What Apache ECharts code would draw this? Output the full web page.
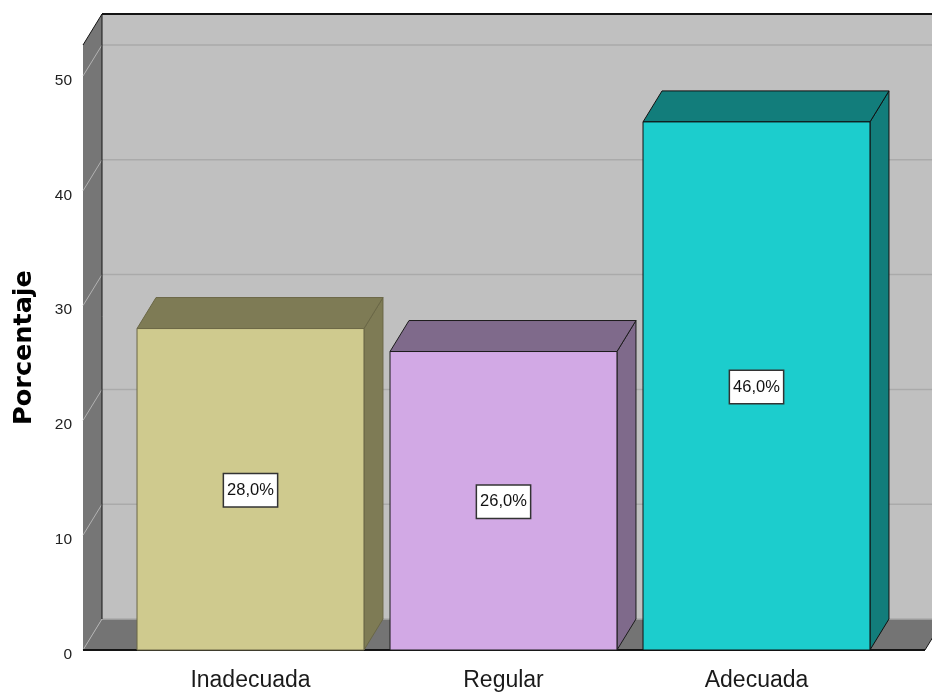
<!DOCTYPE html>
<html>
<head>
<meta charset="utf-8">
<script src="https://cdn.jsdelivr.net/npm/echarts@6/dist/echarts.min.js"></script>
<style>
  html, body { margin: 0; padding: 0; background: #ffffff; }
  #chart { width: 932px; height: 694px; }
</style>
</head>
<body>
<div id="chart"></div>
<script>
// Chart data
const categories = ['Inadecuada', 'Regular', 'Adecuada'];
const percentages = [28, 26, 46];
const yTicks = [0, 10, 20, 30, 40, 50];
const yMax = 52.7;

// Styling
const SANS = "'Liberation Sans', Arial, sans-serif";
const DX = 19;   // depth offset to the right
const DY = 31;   // depth offset upwards
const frontColors = ['#cfca8e', '#d2a9e5', '#1ccdcd'];
const shadeColors = ['#7e7b55', '#7f6a8b', '#127d7b'];
const edgeColors = ['#6a6746', '#1c1c1c', '#101010'];

function fmtPct(v) {
  return v.toFixed(1).replace('.', ',') + '%';
}

// Back wall, left wall, floor and their grid lines
function renderWalls(params, api) {
  const cs = params.coordSys;
  const y0 = api.coord([0, 0])[1];
  const yT = api.coord([0, yMax])[1];
  const fl = cs.x - 41;
  const fr = cs.x + cs.width + 42;
  const children = [];

  children.push({
    type: 'rect',
    shape: { x: fl + DX, y: yT - DY, width: fr - fl + 40, height: y0 - yT },
    style: { fill: '#c0c0c0' }
  });
  children.push({
    type: 'polygon',
    shape: { points: [[fl, yT], [fl + DX, yT - DY], [fl + DX, y0 - DY], [fl, y0]] },
    style: { fill: '#767676' }
  });
  children.push({
    type: 'polygon',
    shape: { points: [[fl, y0], [fl + DX, y0 - DY], [fr + DX, y0 - DY], [fr, y0]] },
    style: { fill: '#747474' }
  });

  yTicks.forEach(function (t) {
    const y = api.coord([0, t])[1];
    children.push({
      type: 'line',
      shape: { x1: fl + DX, y1: y - DY, x2: fr + DX + 40, y2: y - DY },
      style: { stroke: '#aaaaaa', lineWidth: 1.5 }
    });
    children.push({
      type: 'line',
      shape: { x1: fl, y1: y, x2: fl + DX, y2: y - DY },
      style: { stroke: '#b2b2b2', lineWidth: 1 }
    });
  });

  const edge = { stroke: '#141414', lineWidth: 1 };
  children.push({ type: 'line', shape: { x1: fl + DX, y1: yT - DY, x2: fr + DX + 40, y2: yT - DY }, style: { stroke: '#141414', lineWidth: 2 } });
  children.push({ type: 'line', shape: { x1: fl, y1: yT, x2: fl + DX, y2: yT - DY }, style: edge });
  children.push({ type: 'line', shape: { x1: fl + DX, y1: yT - DY, x2: fl + DX, y2: y0 - DY }, style: edge });
  children.push({ type: 'line', shape: { x1: fl, y1: y0, x2: fr, y2: y0 }, style: { stroke: '#141414', lineWidth: 2 } });
  children.push({ type: 'line', shape: { x1: fr, y1: y0, x2: fr + DX, y2: y0 - DY }, style: edge });

  return { type: 'group', children: children };
}

// 3D bar: front face, top face, right face and value label
function renderBar(params, api) {
  const idx = api.value(0);
  const v = api.value(1);
  const top = api.coord([idx, v]);
  const base = api.coord([idx, 0]);
  const w = api.size([1, 0])[0] * 0.897;
  const xL = top[0] - w / 2;
  const xR = top[0] + w / 2;
  const yT = top[1];
  const yB = base[1];
  const i = params.dataIndex;
  const stroke = edgeColors[i];

  return {
    type: 'group',
    children: [
      {
        type: 'polygon',
        shape: { points: [[xR, yT], [xR + DX, yT - DY], [xR + DX, yB - DY], [xR, yB]] },
        style: { fill: shadeColors[i], stroke: stroke, lineWidth: 1 }
      },
      {
        type: 'polygon',
        shape: { points: [[xL, yT], [xL + DX, yT - DY], [xR + DX, yT - DY], [xR, yT]] },
        style: { fill: shadeColors[i], stroke: stroke, lineWidth: 1 }
      },
      {
        type: 'rect',
        shape: { x: xL, y: yT, width: w, height: yB - yT },
        style: { fill: frontColors[i], stroke: stroke, lineWidth: 1 }
      },
      {
        type: 'text',
        x: top[0],
        y: (yT + yB) / 2 + 1,
        style: {
          text: fmtPct(v),
          font: '16.5px ' + SANS,
          fill: '#111111',
          align: 'center',
          verticalAlign: 'middle',
          backgroundColor: '#ffffff',
          borderColor: '#333333',
          borderWidth: 1.5,
          padding: [8, 3, 7, 3]
        }
      }
    ]
  };
}

const chart = echarts.init(document.getElementById('chart'), null, { renderer: 'canvas' });

chart.setOption({
  backgroundColor: '#ffffff',
  animation: false,
  grid: { left: 124, right: 49, top: 45, bottom: 44 },
  xAxis: {
    type: 'category',
    data: categories,
    axisLine: { show: false },
    axisTick: { show: false },
    splitLine: { show: false },
    axisLabel: {
      margin: 19,
      color: '#1a1a1a',
      fontSize: 23,
      fontFamily: SANS
    }
  },
  yAxis: {
    type: 'value',
    min: 0,
    max: yMax,
    interval: 10,
    offset: 41,
    name: 'Porcentaje',
    nameLocation: 'middle',
    nameGap: 46,
    nameRotate: 90,
    nameTextStyle: {
      fontFamily: "'DejaVu Sans', sans-serif",
      fontWeight: 'bold',
      fontSize: 25.5,
      color: '#000000'
    },
    axisLine: { show: true, lineStyle: { color: '#141414', width: 1 } },
    axisTick: { show: false },
    splitLine: { show: false },
    axisLabel: {
      margin: 11,
      color: '#222222',
      fontSize: 15.5,
      fontFamily: SANS,
      verticalAlign: 'top',
      lineHeight: 9,
      showMaxLabel: false,
      formatter: function (v) { return v % 10 === 0 ? String(v) : ''; }
    }
  },
  series: [
    {
      type: 'custom',
      name: 'walls',
      renderItem: renderWalls,
      data: [[0, 0]],
      z: 1,
      silent: true
    },
    {
      type: 'custom',
      name: 'Porcentaje',
      renderItem: renderBar,
      data: percentages.map(function (p, i) { return [i, p]; }),
      z: 2
    }
  ]
});
</script>
</body>
</html>
